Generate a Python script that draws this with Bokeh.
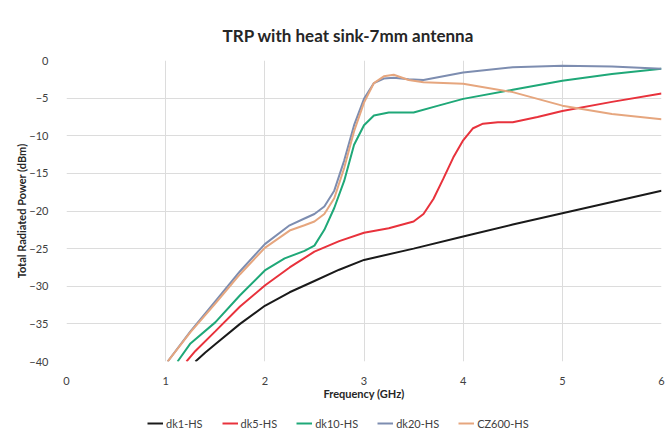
from bokeh.plotting import figure
from bokeh.layouts import column
from bokeh.models import Legend, LegendItem, Range1d, FixedTicker
from bokeh.embed import file_html
from bokeh.resources import INLINE

# ---- data ----
dk1_x = [1.3, 1.4, 1.5, 1.75, 2.0, 2.25, 2.5, 2.75, 3.0, 3.5, 4.0, 4.5, 5.0, 5.5, 6.0]
dk1_y = [-40, -38.8, -37.7, -35.0, -32.6, -30.8, -29.3, -27.8, -26.5, -25.0, -23.4, -21.8, -20.3, -18.8, -17.3]

dk5_x = [1.21, 1.3, 1.5, 1.75, 2.0, 2.25, 2.5, 2.75, 3.0, 3.25, 3.5, 3.6, 3.7, 3.8, 3.9, 4.0,
         4.1, 4.2, 4.35, 4.5, 4.75, 5.0, 5.5, 6.0]
dk5_y = [-40, -38.6, -36.0, -32.7, -29.9, -27.5, -25.4, -24.0, -22.9, -22.3, -21.4, -20.4,
         -18.4, -15.7, -12.9, -10.6, -9.0, -8.4, -8.2, -8.2, -7.5, -6.7, -5.5, -4.4]

dk10_x = [1.12, 1.25, 1.5, 1.75, 2.0, 2.2, 2.4, 2.5, 2.6, 2.7, 2.8, 2.9, 3.0, 3.1, 3.25,
          3.5, 3.75, 4.0, 4.5, 5.0, 5.5, 6.0]
dk10_y = [-40, -37.6, -34.8, -31.2, -27.9, -26.3, -25.3, -24.6, -22.5, -19.6, -16.0, -11.2,
          -8.6, -7.3, -6.9, -6.9, -6.0, -5.1, -3.9, -2.7, -1.8, -1.1]

dk20_x = [1.02, 1.25, 1.5, 1.75, 2.0, 2.25, 2.4, 2.5, 2.6, 2.7, 2.8, 2.9, 3.0, 3.1, 3.2,
          3.3, 3.45, 3.6, 4.0, 4.5, 5.0, 5.5, 6.0]
dk20_y = [-40, -36.0, -32.0, -28.0, -24.4, -21.9, -21.0, -20.4, -19.4, -17.3, -13.3, -8.6,
          -5.1, -3.0, -2.4, -2.3, -2.5, -2.6, -1.6, -0.9, -0.7, -0.8, -1.1]

cz600_x = [1.02, 1.25, 1.5, 1.75, 2.0, 2.25, 2.4, 2.5, 2.6, 2.7, 2.8, 2.9, 3.0, 3.1, 3.2,
           3.3, 3.45, 3.6, 4.0, 4.5, 5.0, 5.5, 6.0]
cz600_y = [-40, -36.1, -32.3, -28.4, -24.9, -22.6, -21.9, -21.4, -20.4, -18.3, -14.3, -9.4,
           -5.6, -3.0, -2.1, -1.9, -2.6, -2.9, -3.1, -4.2, -6.0, -7.1, -7.8]

series_names = ["dk1-HS", "dk5-HS", "dk10-HS", "dk20-HS", "CZ600-HS"]
series_x = [dk1_x, dk5_x, dk10_x, dk20_x, cz600_x]
series_y = [dk1_y, dk5_y, dk10_y, dk20_y, cz600_y]
series_colors = ["#1a1a1a", "#e8323c", "#1fa878", "#7d8db0", "#e6a67e"]

x_ticks = [0, 1, 2, 3, 4, 5, 6]
y_ticks = [0, -5, -10, -15, -20, -25, -30, -35, -40]

FONT = "Lato"

p = figure(width=667, height=416, output_backend="svg", toolbar_location=None,
           x_range=Range1d(0, 6), y_range=Range1d(-40, 0),
           min_border_left=66, min_border_right=6, min_border_top=60, min_border_bottom=55)

p.title.text = "TRP with heat sink-7mm antenna"
p.title.align = "left"
p.title.offset = 156
p.title.text_font = FONT
p.title.text_font_size = "17px"
p.title.text_font_style = "bold"
p.title.text_color = "#262626"
p.title.standoff = 29

p.outline_line_color = None
p.background_fill_color = "white"
p.border_fill_color = "white"

for ax in (p.xaxis[0], p.yaxis[0]):
    ax.axis_line_color = None
    ax.major_tick_line_color = None
    ax.minor_tick_line_color = None
    ax.major_label_text_font = FONT
    ax.major_label_text_font_size = "11px"
    ax.major_label_text_color = "#404040"
    ax.axis_label_text_font = FONT
    ax.axis_label_text_font_size = "11px"
    ax.axis_label_text_font_style = "bold"
    ax.axis_label_text_color = "#262626"

p.xaxis.major_label_standoff = 9
p.yaxis.major_label_standoff = 12
p.xaxis.ticker = FixedTicker(ticks=x_ticks)
p.yaxis.ticker = FixedTicker(ticks=y_ticks)
p.xaxis.axis_label = "Frequency (GHz)"
p.yaxis.axis_label = "Total Radiated Power (dBm)"
p.xaxis.axis_label_standoff = -1
p.yaxis.axis_label_standoff = -2

p.xgrid.grid_line_color = "#dcdcdc"
p.ygrid.grid_line_color = "#dcdcdc"

for xs, ys, c in zip(series_x, series_y, series_colors):
    p.line(xs, ys, line_color=c, line_width=2)

# legend strip (separate figure; its lines lie outside its visible range)
lf = figure(width=667, height=31, output_backend="svg", toolbar_location=None,
            x_range=Range1d(100, 101), y_range=Range1d(100, 101),
            x_axis_type=None, y_axis_type=None,
            min_border_left=0, min_border_right=0, min_border_top=0, min_border_bottom=0)
lf.outline_line_color = None
lf.xgrid.visible = False
lf.ygrid.visible = False
items = []
for name, xs, ys, c in zip(series_names, series_x, series_y, series_colors):
    r = lf.line(xs, ys, line_color=c, line_width=2)
    items.append(LegendItem(label=name, renderers=[r]))

legend = Legend(items=items, orientation="horizontal", location=(81, 14),
                label_text_font=FONT, label_text_font_size="11px", label_text_color="#404040",
                glyph_width=16, spacing=19, border_line_color=None, padding=2, margin=0,
                label_standoff=3, background_fill_alpha=0)
lf.add_layout(legend, "center")

open("out.html", "w").write(file_html(column(p, lf, spacing=0), INLINE))
